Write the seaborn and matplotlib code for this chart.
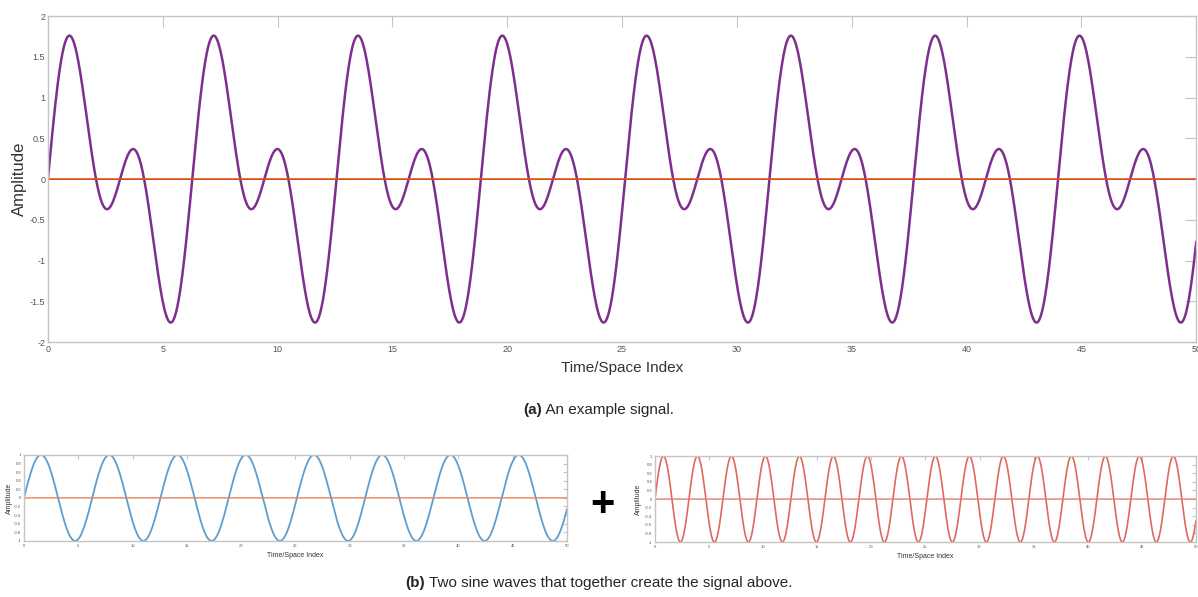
import numpy as np
import pandas as pd
import matplotlib
matplotlib.use("Agg")
import matplotlib.pyplot as plt
import seaborn as sns

# ---- data (signal parameters) ----
x_range = [0, 50]
n_samples = 2000
freqs = [1.0, 2.0]          # angular frequency of the two component sines
amps = [1.0, 1.0]           # amplitudes of the two component sines
top_xticks = [0, 5, 10, 15, 20, 25, 30, 35, 40, 45, 50]
top_yticks = [-2, -1.5, -1, -0.5, 0, 0.5, 1, 1.5, 2]
small_yticks = [-1, -0.8, -0.6, -0.4, -0.2, 0, 0.2, 0.4, 0.6, 0.8, 1]
xlabel = "Time/Space Index"
ylabel = "Amplitude"
caption_a = ("(a)", " An example signal.")
caption_b = ("(b)", " Two sine waves that together create the signal above.")

t = np.linspace(x_range[0], x_range[1], n_samples)
comp1 = amps[0] * np.sin(freqs[0] * t)
comp2 = amps[1] * np.sin(freqs[1] * t)
df = pd.DataFrame({"t": t, "signal": comp1 + comp2, "s1": comp1, "s2": comp2,
                   "zero": np.zeros_like(t)})

sns.set_style("white")
plt.rcParams["font.family"] = ["Liberation Sans", "DejaVu Sans"]

FRAME = "#c4c4c4"
TICKC = "#555555"

fig = plt.figure(figsize=(11.98, 5.97), dpi=100)


def style_axes(ax, xt, yt, tick_fs, ticklen, lab_fs, xpad):
    ax.set_xlim(*x_range)
    ax.set_ylim(yt[0], yt[-1])
    ax.set_xticks(xt)
    ax.set_yticks(yt)
    ax.set_yticklabels([f"{v:g}" for v in yt])
    ax.set_xticklabels([str(v) for v in xt])
    ax.tick_params(direction="in", length=ticklen, width=0.8, color=FRAME,
                   labelsize=tick_fs, labelcolor=TICKC, top=True, right=True,
                   pad=2)
    for s in ax.spines.values():
        s.set_color(FRAME)
        s.set_linewidth(1.0)
        s.set_visible(True)
    ax.set_xlabel(xlabel, fontsize=lab_fs, color="#333333", labelpad=xpad)
    ax.set_ylabel(ylabel, fontsize=lab_fs, color="#333333", labelpad=2)


# --- top plot ---
ax = fig.add_axes([0.040, 0.427, 0.9585, 0.546])
sns.lineplot(data=df, x="t", y="signal", ax=ax, color="#7E2F8E", linewidth=1.8)
sns.lineplot(data=df, x="t", y="zero", ax=ax, color="#D95319", linewidth=1.3)
style_axes(ax, top_xticks, top_yticks, 6.5, 8, 11, 5)
ax.yaxis.label.set_size(12)

# --- bottom left ---
ax1 = fig.add_axes([0.0200, 0.094, 0.4533, 0.144])
sns.lineplot(data=df, x="t", y="s1", ax=ax1, color="#5E9ECF", linewidth=1.3)
sns.lineplot(data=df, x="t", y="zero", ax=ax1, color="#E8845C", linewidth=1.0)
style_axes(ax1, top_xticks, small_yticks, 3, 3, 5, 3)
ax1.yaxis.labelpad = 1

# --- bottom right ---
ax2 = fig.add_axes([0.5467, 0.092, 0.4516, 0.144])
sns.lineplot(data=df, x="t", y="s2", ax=ax2, color="#E0685F", linewidth=1.2)
sns.lineplot(data=df, x="t", y="zero", ax=ax2, color="#E0806A", linewidth=1.0)
style_axes(ax2, top_xticks, small_yticks, 3, 3, 5, 3)

# plus sign
fig.text(0.5025, 1 - 505 / 597, "+", fontsize=30, fontweight="bold",
         ha="center", va="center", color="black")


def caption(y, parts):
    bold, rest = parts
    r = fig.canvas.get_renderer()
    tb = fig.text(0.5, y, bold, fontsize=11, fontweight="bold", ha="left", va="center")
    tr = fig.text(0.5, y, rest, fontsize=11, ha="left", va="center")
    wb = tb.get_window_extent(r).width
    wr = tr.get_window_extent(r).width
    total = (wb + wr) / fig.bbox.width
    x0 = 0.5 - total / 2
    tb.set_x(x0)
    tr.set_x(x0 + wb / fig.bbox.width)


caption(1 - 410 / 597, caption_a)
caption(1 - 583 / 597, caption_b)

fig.savefig("out.png", dpi=100)
